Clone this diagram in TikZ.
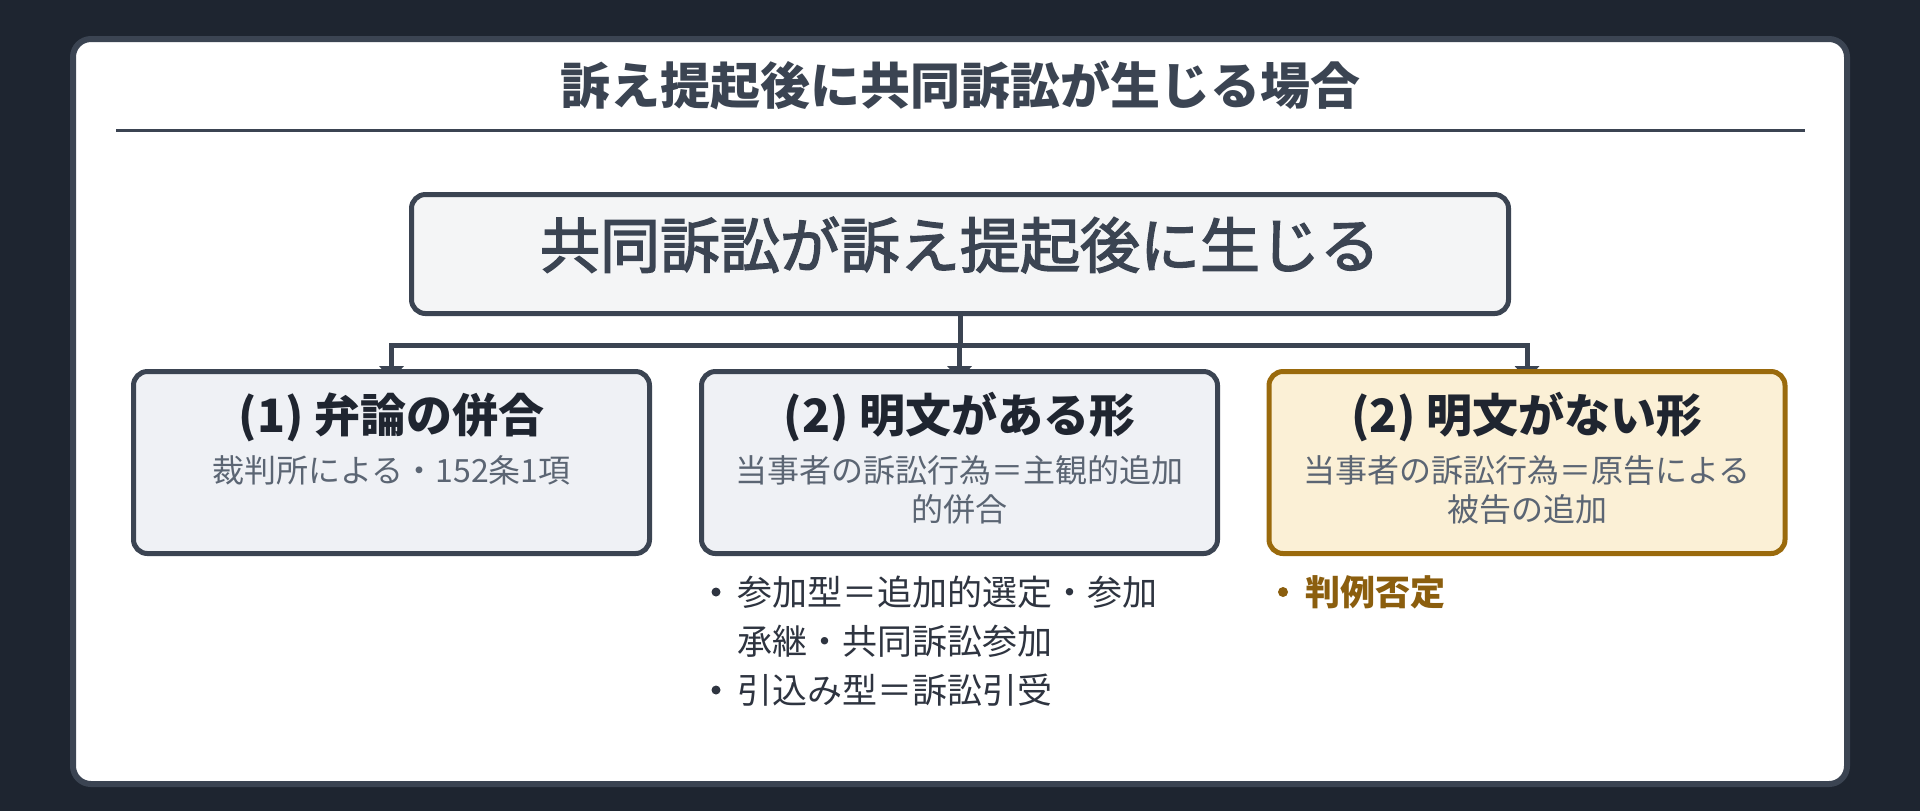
\documentclass[tikz,border=0pt]{standalone}
\usepackage{fontspec}
\setmainfont{Noto Sans CJK JP}
\newfontfamily\medfont[FakeBold=2.5]{Noto Sans CJK JP}
\usetikzlibrary{arrows.meta,positioning,backgrounds}
\definecolor{bgdark}{HTML}{1E2530}
\definecolor{slate}{HTML}{3B4452}
\definecolor{ink}{HTML}{1F2530}
\definecolor{subgrey}{HTML}{5B6573}
\definecolor{boxfill}{HTML}{EFF1F5}
\definecolor{topfill}{HTML}{F4F5F6}
\definecolor{ochre}{HTML}{9A6A0C}
\definecolor{ochrefill}{HTML}{FBF0D6}
\definecolor{ochretext}{HTML}{8B5E0E}
\definecolor{listink}{HTML}{2E3440}

\begin{document}
\begin{tikzpicture}[x=0.5pt,y=-0.5pt,
    box/.style={draw=slate,line width=2.5pt,rounded corners=7pt,fill=boxfill,
      minimum width=258pt,minimum height=91pt,inner sep=0pt},
    ttl/.style={text=ink,font=\fontsize{23pt}{27pt}\selectfont\bfseries},
    sub/.style={text=subgrey,align=center,font=\fontsize{16pt}{19.5pt}\selectfont},
    item/.style={anchor=west,inner sep=0pt,text=listink,font=\fontsize{17.5pt}{21pt}\selectfont},
    link/.style={draw=slate,line width=2.5pt,-{Triangle[width=12pt,length=7pt]}}]
  \useasboundingbox (0,0) rectangle (1920,811);
  \begin{pgfonlayer}{background}
    \fill[bgdark] (0,0) rectangle (1920,811);
    \draw[slate,line width=3pt,fill=white,rounded corners=9pt] (73,39) rectangle (1847,784);
  \end{pgfonlayer}

  \node[text=slate,font=\fontsize{25pt}{30pt}\selectfont\bfseries] (title) at (960,85) {訴え提起後に共同訴訟が生じる場合};
  \draw[slate,line width=1.5pt] (116,130.5) -- (1805,130.5);

  \node[box,fill=topfill,minimum width=548.5pt,minimum height=59.5pt] (top) at (960,254) {};
  \node[text=slate,font=\medfont\fontsize{30pt}{36pt}\selectfont] (toptxt) at (960,245) {共同訴訟が訴え提起後に生じる};

  \node[box] (b1) at (391.5,462.5) {};
  \node[box] (b2) at (959.5,462.5) {};
  \node[box,draw=ochre,fill=ochrefill] (b3) at (1527,462.5) {};

  \node[ttl] (t1) at (391.5,417) {(1) 弁論の併合};
  \node[sub] (s1) at (391.5,470) {裁判所による・152条1項};
  \node[ttl] (t2) at (959.5,417) {(2) 明文がある形};
  \node[sub] (s2) at (959.5,490) {当事者の訴訟行為＝主観的追加\\的併合};
  \node[ttl] (t3) at (1527,417) {(2) 明文がない形};
  \node[sub] (s3) at (1527,490) {当事者の訴訟行為＝原告による\\被告の追加};

  % bullets under the boxes
  \node[item] (i1) at (737,592) {参加型＝追加的選定・参加};
  \node[item] (i2) at (737,641) {承継・共同訴訟参加};
  \node[item] (i3) at (737,690) {引込み型＝訴訟引受};
  \node[item,text=ochretext,font=\fontsize{17.5pt}{21pt}\selectfont\bfseries] (j1) at (1305,592) {判例否定};
  \fill[listink] (716,592) circle[radius=4.5] (716,690) circle[radius=4.5];
  \fill[ochretext] (1283,592) circle[radius=5];

  \begin{pgfonlayer}{background}
    \foreach \b in {b1,b2,b3}
      \draw[link] (top.south) -- ++(0,29) -| ([yshift=-5.5pt]\b.north);
  \end{pgfonlayer}
\end{tikzpicture}
\end{document}
